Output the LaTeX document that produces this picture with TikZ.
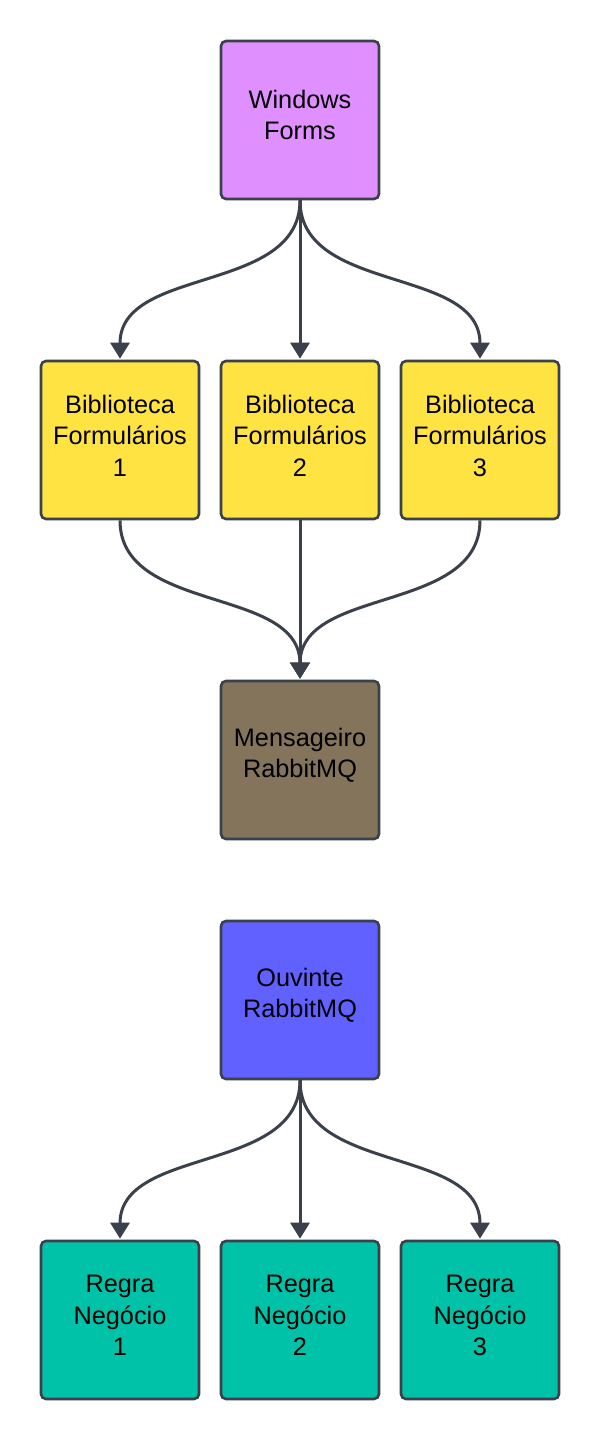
\documentclass[tikz,border=0pt]{standalone}
\usepackage{fontspec}
\setmainfont{Liberation Sans}
\usetikzlibrary{arrows.meta}
\definecolor{edge}{HTML}{3A414A}
\definecolor{cpurple}{HTML}{E08FFF}
\definecolor{cyellow}{HTML}{FFE342}
\definecolor{cbrown}{HTML}{83745B}
\definecolor{cblue}{HTML}{6161FF}
\definecolor{cteal}{HTML}{00C2A8}
\tikzset{
  box/.style={draw=edge, line width=2.6pt, rounded corners=5pt, minimum width=158pt, minimum height=158pt,
    inner sep=0pt},
  txt/.style={align=center, text=black, inner sep=0pt, font=\fontsize{25.3}{31.5}\selectfont},
  arr/.style={draw=edge, line width=3pt, -{Triangle[width=19pt,length=16pt]}, shorten >=1pt},
}
\begin{document}
\begin{tikzpicture}[x=1pt,y=1pt]
\useasboundingbox (0,0) rectangle (600,-1440);
\node[box, fill=cpurple] (wf) at (300,-120) {};
\node[box, fill=cyellow] (b1) at (120,-440) {};
\node[box, fill=cyellow] (b2) at (300,-440) {};
\node[box, fill=cyellow] (b3) at (480,-440) {};
\node[box, fill=cbrown] (mq) at (300,-760) {};
\node[box, fill=cblue] (ov) at (300,-1000) {};
\node[box, fill=cteal] (r1) at (120,-1320) {};
\node[box, fill=cteal] (r2) at (300,-1320) {};
\node[box, fill=cteal] (r3) at (480,-1320) {};
\node[txt] (wft) at ([yshift=5pt]wf.center) {Windows\\Forms};
\node[txt] (b1t) at ([yshift=4.5pt]b1.center) {Biblioteca\\Formulários\\1};
\node[txt] (b2t) at ([yshift=4.5pt]b2.center) {Biblioteca\\Formulários\\2};
\node[txt] (b3t) at ([yshift=4.5pt]b3.center) {Biblioteca\\Formulários\\3};
\node[txt] (mqt) at ([yshift=5pt]mq.center) {Mensageiro\\RabbitMQ};
\node[txt] (ovt) at ([yshift=5pt]ov.center) {Ouvinte\\RabbitMQ};
\node[txt] (r1t) at ([yshift=4.5pt]r1.center) {Regra\\Negócio\\1};
\node[txt] (r2t) at ([yshift=4.5pt]r2.center) {Regra\\Negócio\\2};
\node[txt] (r3t) at ([yshift=4.5pt]r3.center) {Regra\\Negócio\\3};
\draw[arr] (wf.south) to[out=-90,in=90] (b1.north);
\draw[arr] (wf.south) -- (b2.north);
\draw[arr] (wf.south) to[out=-90,in=90] (b3.north);
\draw[arr] (b1.south) to[out=-90,in=90] (mq.north);
\draw[arr] (b2.south) -- (mq.north);
\draw[arr] (b3.south) to[out=-90,in=90] (mq.north);
\draw[arr] (ov.south) to[out=-90,in=90] (r1.north);
\draw[arr] (ov.south) -- (r2.north);
\draw[arr] (ov.south) to[out=-90,in=90] (r3.north);
\end{tikzpicture}
\end{document}
